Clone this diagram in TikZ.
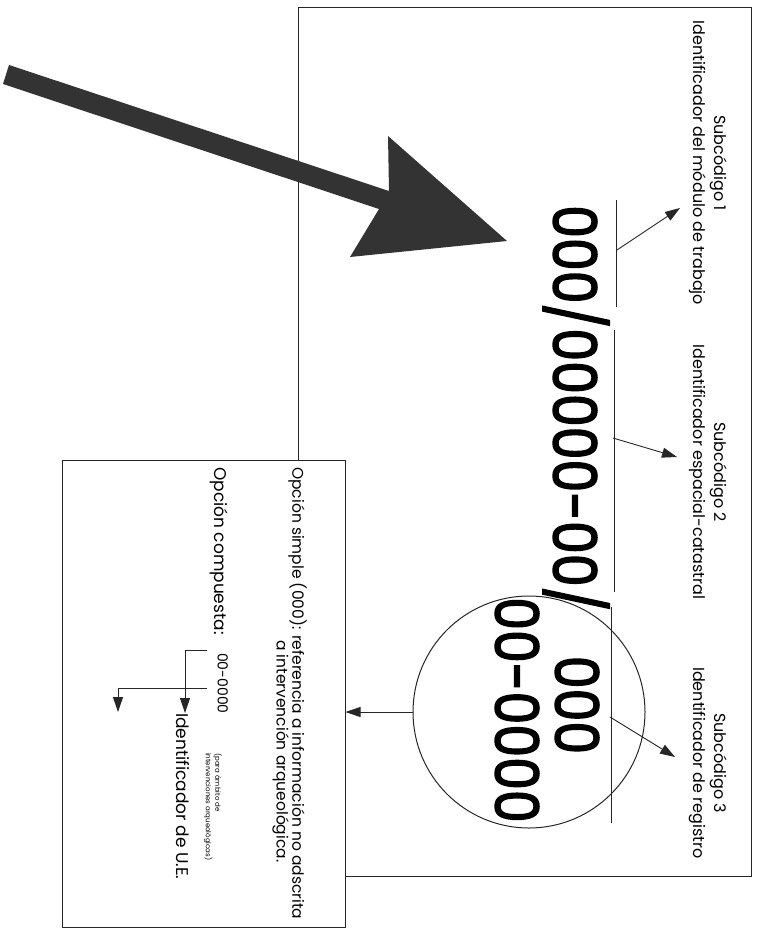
\documentclass[tikz,border=0pt]{standalone}
\usepackage{fontspec}
\setmainfont{Poppins}
\newfontfamily\codefont{Poppins}[FakeStretch=0.87,FakeBold=2.4]
\usetikzlibrary{arrows.meta}

\tikzset{
  boxline/.style={draw=black!85, line width=1pt},
  pointer/.style={draw=black!85, line width=0.9pt, -{Triangle[length=15pt,width=10pt]}},
  rot/.style={rotate=-90, inner sep=0pt},
  subtag/.style={rot, align=center, font=\fontsize{16}{21}\selectfont},
  bigcode/.style={rot, font=\codefont\fontsize{60}{60}\selectfont},
  note/.style={rot, font=\fontsize{17}{18}\selectfont},
}

\begin{document}
\begin{tikzpicture}[x=1pt,y=-1pt]
  \useasboundingbox (0,0) rectangle (760,931);
  % marcos
  \node[boxline, minimum width=453pt, minimum height=868pt] (mainbox) at (524.5,442) {};
  \node[boxline, fill=white, minimum width=283pt, minimum height=467pt] (optbox) at (203.5,693.5) {};

  % flecha grande
  \fill[black!80] (9,65) -- (389,191) -- (388,136) -- (507,241) -- (350,257) -- (379,209) -- (3,84) -- cycle;

  % codigo
  \node[bigcode, anchor=base west] (code) at (553,205) {000/00000-00/};
  \node[bigcode, anchor=base] (simple) at (555,705) {000};
  \node[bigcode, anchor=base] (compound) at (495,710) {00-0000};
  \node[boxline, circle, minimum size=232pt] (ring) at (529,712) {};

  \draw[boxline] (616,200) -- (616,307);
  \draw[boxline] (614,330) -- (614,592);
  \draw[boxline] (611,607) -- (611,823);

  \node[subtag] (sub1) at (708,163) {Subcódigo 1\\Identificador del módulo de trabajo};
  \node[subtag] (sub2) at (708,472) {Subcódigo 2\\Identificador espacial-catastral};
  \node[subtag] (sub3) at (708,763) {Subcódigo 3\\Identificador de registro};

  \coordinate (m1) at (617,250);
  \coordinate (m2) at (613,438);
  \coordinate (m3) at (610,717);
  \draw[pointer] (m1) -- (680,208);
  \draw[pointer] (m2) -- (677,457);
  \draw[pointer] (m3) -- (675,757);
  \draw[pointer] (ring.west) -- (ring.west -| optbox.east);

  % opciones
  \node[note, font=\fontsize{15.5}{18}\selectfont, anchor=north west] (simple1) at (307,467) {Opción simple (000): referencia a información no adscrita};
  \node[note, font=\fontsize{15.5}{18}\selectfont, anchor=north west] (simple2) at (289,640) {a intervención arqueológica.};
  \node[note, anchor=north west] (multi) at (228,467) {Opción compuesta:};
  \node[note, font=\fontsize{14}{18}\selectfont, anchor=north west] (multicode) at (228,653) {00-0000};
  \node[note, anchor=north west] (ue) at (190,713) {Identificador de U.E.};
  \node[rot, anchor=north west, align=left, font=\fontsize{7}{8}\selectfont] (para) at (222,753) {(para ámbito de\\intervenciones arqueológicas)};

  \draw[pointer] (207,650) -- (185,650) -- (ue.north west -| 185,0);
  \draw[pointer] (207,688) -- (118,688) -- (118,712);
\end{tikzpicture}
\end{document}
